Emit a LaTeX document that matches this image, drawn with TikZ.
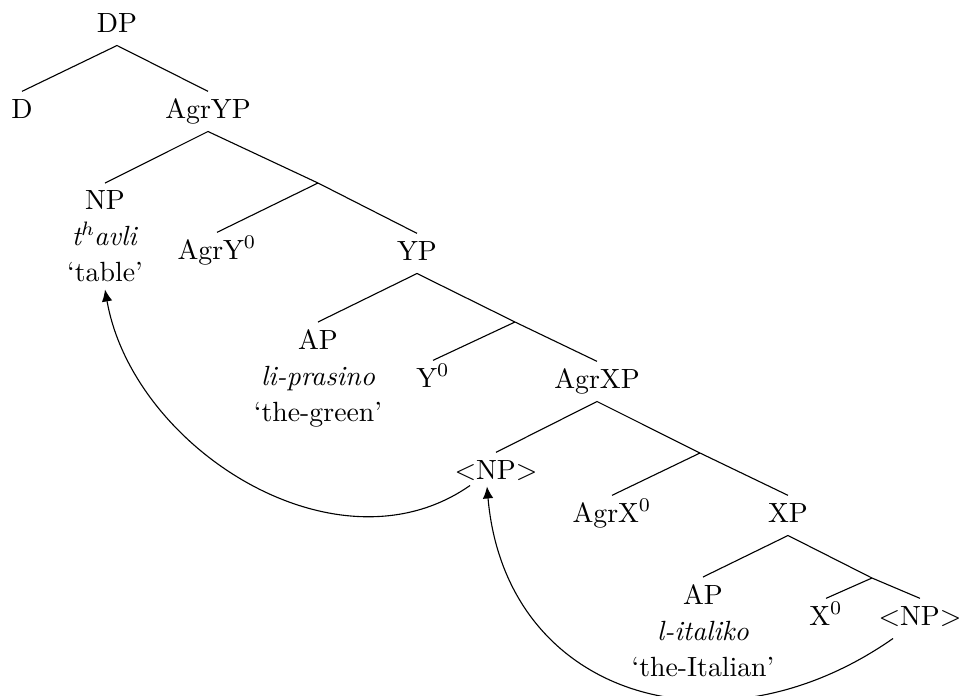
\documentclass[tikz,border=0pt]{standalone}
\usetikzlibrary{arrows.meta}
\begin{document}
\begin{tikzpicture}[x=0.36pt, y=-0.36pt,
    cat/.style={anchor=base, inner xsep=1pt, inner ysep=2.5pt, text height=1.6ex, text depth=0.5ex},
    leaf/.style={anchor=north, align=center, inner sep=2.5pt},
    move/.style={-{Latex[length=4.3pt, width=3.8pt]}}]
    \useasboundingbox (0,0) rectangle (969,695);

    \node[cat] (dp) at (117,32) {DP};
    \node[cat] (d) at (22,118) {D};
    \node[cat] (agryp) at (208,118) {AgrYP};
    \coordinate (b1) at (318,183);
    \node[leaf] (np) at (105,183) {NP\\[1pt] \textit{t$^h$\kern-0.5pt avli}\\[1pt] `table'};
    \node[cat] (agry) at (217,259) {AgrY$^0$};
    \node[cat] (yp) at (417,260) {YP};
    \coordinate (b2) at (515,322);
    \node[leaf] (ap) at (318,322) {AP\\[1pt] \textit{li-prasino}\\[1pt] `the-green'};
    \node[cat] (y) at (433,387) {Y$^0$};
    \node[cat] (agrxp) at (597,388) {AgrXP};
    \coordinate (b3) at (700,453);
    \node[cat] (trace) at (496,479) {$<$NP$>$};
    \node[cat] (agrx) at (612,522) {AgrX$^0$};
    \node[cat] (xp) at (788,522) {XP};
    \coordinate (b4) at (872,578);
    \node[leaf] (ap2) at (703,577) {AP\\[1pt] \textit{l-italiko}\\[1pt] `the-Italian'};
    \node[cat] (x) at (826,625) {X$^0$};
    \node[cat] (trace2) at (920,625) {$<$NP$>$};

    \draw (d.north) -- (dp.south) -- (agryp.north);
    \draw (np.north) -- (agryp.south) -- (b1) -- (yp.north);
    \draw (b1) -- (agry.north);
    \draw (ap.north) -- (yp.south) -- (b2) -- (agrxp.north);
    \draw (b2) -- (y.north);
    \draw (trace.north) -- (agrxp.south) -- (b3) -- (xp.north);
    \draw (b3) -- (agrx.north);
    \draw (ap2.north) -- (xp.south) -- (b4) -- (trace2.north);
    \draw (b4) -- (x.north);

    \draw[move] ([shift={(-26,-7)}]trace.south) to[out=-145, in=-80] (np.south);
    \draw[move] ([shift={(-27,0)}]trace2.south) to[out=-145, in=-85, looseness=1.25] ([shift={(-9,-6)}]trace.south);
\end{tikzpicture}
\end{document}
